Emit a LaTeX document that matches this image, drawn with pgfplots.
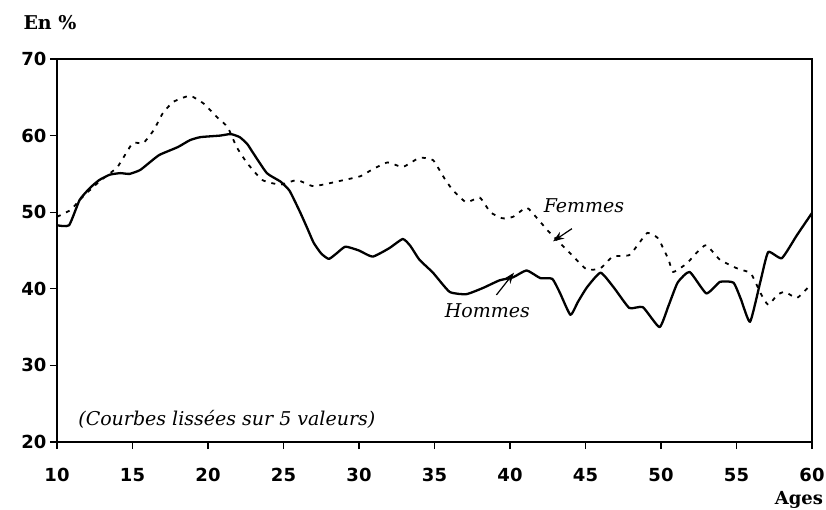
\documentclass[border=0pt]{standalone}
\usepackage{fontspec}
\setmainfont{DejaVu Serif}
\newfontfamily\tickfont{DejaVu Sans}
\usepackage{pgfplots}
\pgfplotsset{compat=1.18}
\usetikzlibrary{arrows.meta}
\begin{document}
\begin{tikzpicture}
\path[use as bounding box] (0,0) rectangle (826pt,509pt);
\begin{axis}[
  at={(57pt,67pt)}, anchor=south west,
  scale only axis, width=755pt, height=383pt,
  xmin=10, xmax=60, ymin=20, ymax=70,
  xtick={10,15,...,60}, ytick={20,30,...,70},
  tick align=outside, major tick length=7pt,
  xtick pos=bottom, ytick pos=left,
  axis line style={line width=1.2pt},
  tick style={line width=1.2pt, black},
  /pgf/number format/assume math mode=true,
  ticklabel style={font=\tickfont\bfseries\fontsize{18}{20}\selectfont},
  xticklabel style={yshift=-16pt},
  yticklabel style={xshift=0pt},
  clip=false,
]
\addplot[black, line width=2.3pt, line join=round, smooth, tension=0.3] coordinates {
(10,48.3) (10.8,48.3) (11.5,51.6) (12.2,53.2) (12.8,54.2) (13.5,54.9) (14.2,55.1) (14.8,55.0) (15.5,55.5) (16.2,56.6) (16.8,57.5) (18.0,58.5) (18.8,59.4) (19.5,59.8) (20.8,60.0) (21.5,60.2) (22.1,59.8) (22.6,58.9) (23.0,57.7) (23.9,55.1) (24.8,54.0) (25.4,52.8) (26.1,50.0) (26.6,47.8) (27.0,46.0) (27.5,44.6) (28.0,43.9) (28.5,44.6) (29.1,45.5) (30.0,45.0) (30.9,44.2) (32.0,45.3) (32.9,46.5) (33.4,45.6) (34.0,43.8) (34.9,42.1) (36.0,39.6) (37.1,39.3) (38.2,40.1) (39.3,41.1) (40.2,41.5) (41.1,42.4) (42.0,41.4) (42.8,41.3) (43.3,39.5) (44.0,36.6) (44.5,38.3) (45.1,40.2) (46.0,42.1) (46.9,40.1) (47.9,37.5) (48.8,37.6) (49.9,35.0) (50.5,37.8) (51.1,40.8) (51.9,42.2) (53.0,39.4) (53.9,40.9) (54.8,40.8) (55.3,38.6) (55.9,35.7) (56.6,41.1) (57.1,44.8) (58.0,44.0) (59.0,47.0) (60.0,49.9)
};
\addplot[black, line width=1.8pt, dash pattern=on 4pt off 6pt, smooth, tension=0.3] coordinates {
(10,49.4) (10.9,50.3) (11.7,52.0) (12.8,54.0) (14.0,55.9) (15.0,59.0) (15.7,59.0) (16.4,60.7) (17.0,62.9) (17.7,64.4) (18.8,65.2) (19.7,64.2) (20.6,62.4) (21.3,61.1) (21.9,58.5) (22.6,56.4) (23.6,54.2) (24.8,53.6) (25.9,54.2) (27.0,53.4) (29.0,54.2) (30.1,54.7) (30.9,55.6) (31.9,56.5) (32.9,55.9) (34.0,57.1) (34.9,56.8) (35.6,54.6) (36.2,52.9) (37.1,51.3) (38.0,51.9) (38.7,50.0) (39.5,49.2) (40.2,49.4) (41.1,50.6) (41.8,49.2) (42.5,47.6) (42.8,47.0) (44.2,44.2) (45.1,42.5) (46.0,42.7) (46.8,44.2) (47.9,44.4) (48.6,46.1) (49.1,47.3) (49.8,46.6) (50.5,43.8) (50.8,42.2) (51.7,43.3) (52.4,44.8) (53.0,45.7) (53.9,43.8) (55.0,42.7) (55.9,42.1) (56.2,41.1) (56.6,39.4) (57.1,37.9) (57.7,39.2) (58.2,39.6) (59.0,38.8) (59.7,40.1) (60.0,40.5)
};
\node[font=\itshape\fontsize{19}{21}\selectfont] at (axis cs:44.9,50.9) {Femmes};
\node[font=\itshape\fontsize{19}{21}\selectfont] at (axis cs:38.5,37.2) {Hommes};
\node[font=\itshape\fontsize{19}{21}\selectfont, anchor=west, inner sep=0pt] at (axis cs:11.4,22.9) {(Courbes lissées sur 5 valeurs)};
\draw[line width=1.2pt, -{Stealth[length=11pt,width=8pt]}] (axis cs:44.1,47.85) -- (axis cs:42.85,46.2);
\draw[line width=1.2pt, -{Stealth[length=11pt,width=8pt]}] (axis cs:39.1,39.2) -- (axis cs:40.26,42.1);
\end{axis}
\node[font=\bfseries\fontsize{19}{21}\selectfont] at (50pt,486pt) {En \%};
\node[font=\bfseries\fontsize{18}{21}\selectfont] at (799pt,9pt) {Ages};
\end{tikzpicture}
\end{document}
